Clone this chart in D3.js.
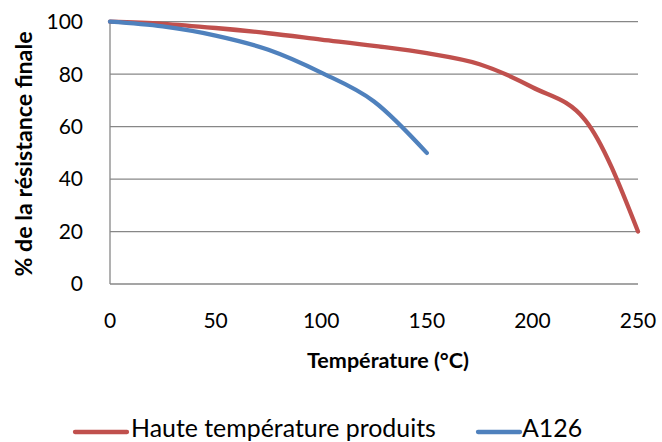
<!DOCTYPE html>
<html><head><meta charset="utf-8">
<script src="https://cdn.jsdelivr.net/npm/d3@7"></script>
<style>html,body{margin:0;padding:0;background:#fff;}</style>
</head><body>
<script>
const temps = [0, 25, 50, 75, 100, 125, 150, 175, 200, 225, 250];
const hauteTemp = [100, 99.2, 97.6, 95.6, 93.2, 90.8, 88, 83.8, 75, 62.5, 20];
const tempsA126 = [0, 25, 50, 75, 100, 125, 150];
const a126 = [100, 98.2, 94.7, 89.3, 80.6, 69.6, 50];
const xTicks = [0, 50, 100, 150, 200, 250];
const yTicks = [0, 20, 40, 60, 80, 100];
const seriesNames = ["Haute température produits", "A126"];
const colors = ["#C0504D", "#4F81BD"];

const W = 662, H = 442;
const svg = d3.select("body").append("svg").attr("width", W).attr("height", H);
const font = "Lato, 'Open Sans', sans-serif";
const x = d3.scaleLinear().domain([0, 250]).range([110, 638]);
const y = d3.scaleLinear().domain([0, 100]).range([284, 21.7]);

function fit(sel, target) {
  const fs = +sel.attr("font-size");
  const w = sel.node().getComputedTextLength();
  if (w > 0) sel.attr("font-size", (fs * target / w).toFixed(2));
  return +sel.attr("font-size");
}

svg.append("g").selectAll("line").data(yTicks).join("line")
  .attr("x1", x(0)).attr("x2", x(250))
  .attr("y1", d => y(d)).attr("y2", d => y(d))
  .attr("stroke", "#878787").attr("stroke-width", 1.3);
svg.append("line").attr("x1", x(0)).attr("x2", x(0)).attr("y1", y(100)).attr("y2", y(0))
  .attr("stroke", "#878787").attr("stroke-width", 1.3);

svg.append("g").selectAll("text").data(yTicks).join("text")
  .attr("x", 83).attr("y", d => y(d)).attr("dy", "0.35em")
  .attr("text-anchor", "end").attr("font-family", font).attr("font-size", 21).attr("fill", "#000")
  .text(d => d);
svg.append("g").selectAll("text").data(xTicks).join("text")
  .attr("x", d => x(d)).attr("y", 328)
  .attr("text-anchor", "middle").attr("font-family", font).attr("font-size", 21).attr("fill", "#000")
  .text(d => d);

const xt = svg.append("text").attr("x", 388).attr("y", 368).attr("text-anchor", "middle")
  .attr("font-family", font).attr("font-weight", "bold").attr("font-size", 21).text("Température (°C)");
fit(xt, 162);
const yt = svg.append("text").attr("transform", "translate(32,154) rotate(-90)").attr("text-anchor", "middle")
  .attr("font-family", font).attr("font-weight", "bold").attr("font-size", 22).text("% de la résistance finale");
fit(yt, 245);

const line = d3.line().x(d => x(d[0])).y(d => y(d[1])).curve(d3.curveMonotoneX);
const data = [d3.zip(temps, hauteTemp), d3.zip(tempsA126, a126)];
svg.append("g").selectAll("path").data(data).join("path")
  .attr("d", line).attr("fill", "none")
  .attr("stroke", (d, i) => colors[i]).attr("stroke-width", 4.3)
  .attr("stroke-linecap", "round").attr("stroke-linejoin", "round");

const leg = [{x1: 75, x2: 127, tx: 131}, {x1: 478, x2: 520, tx: 522}];
let legFs = 24;
leg.forEach((l, i) => {
  svg.append("line").attr("x1", l.x1).attr("x2", l.x2).attr("y1", 432).attr("y2", 432)
    .attr("stroke", colors[i]).attr("stroke-width", 4.3).attr("stroke-linecap", "round");
  const t = svg.append("text").attr("x", l.tx).attr("y", 436.5)
    .attr("font-family", font).attr("font-size", legFs).text(seriesNames[i]);
  if (i === 0) legFs = fit(t, 305);
});
</script>
</body></html>
